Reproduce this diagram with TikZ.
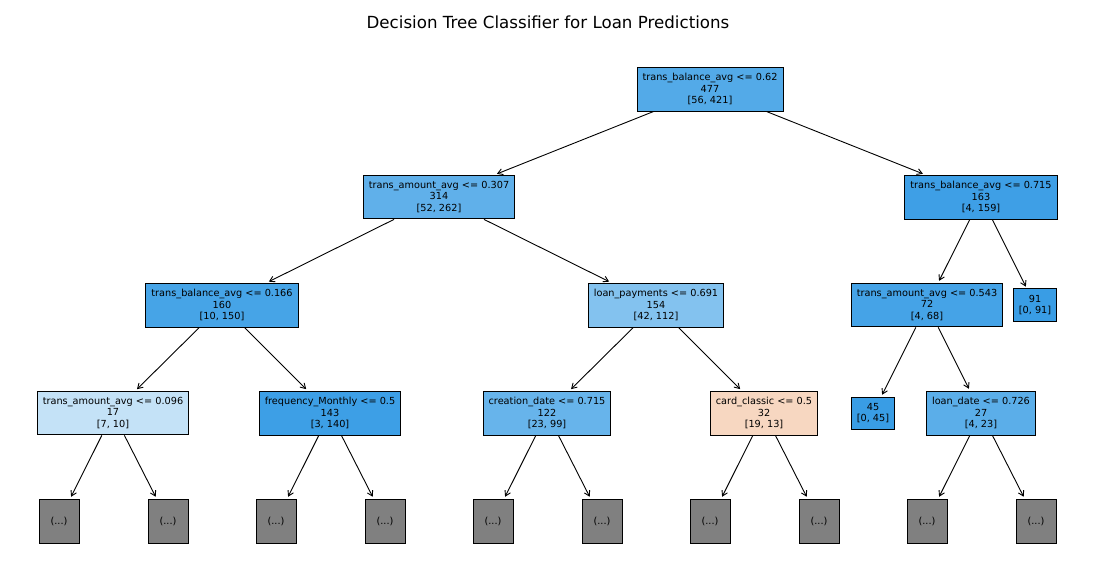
\documentclass[tikz,border=0pt]{standalone}
\usepackage{fontspec}
\setmainfont{DejaVu Sans}
\usetikzlibrary{arrows.meta}
\definecolor{cRoot}{RGB}{83,170,232}
\definecolor{cA}{RGB}{96,176,234}
\definecolor{cB}{RGB}{62,159,230}
\definecolor{cC}{RGB}{70,164,231}
\definecolor{cD}{RGB}{131,194,239}
\definecolor{cE}{RGB}{69,163,231}
\definecolor{cF}{RGB}{57,157,229}
\definecolor{cG}{RGB}{196,226,247}
\definecolor{cH}{RGB}{61,159,230}
\definecolor{cI}{RGB}{103,180,235}
\definecolor{cJ}{RGB}{247,215,193}
\definecolor{cK}{RGB}{91,174,233}
\definecolor{cGrey}{RGB}{128,128,128}
\tikzset{
  tnode/.style={draw=black, line width=0.9pt, align=center, inner xsep=5.5pt, inner ysep=6pt,
    font=\fontsize{9.72}{11.67}\selectfont},
  more/.style={draw=black, line width=0.9pt, fill=cGrey, minimum width=40pt, minimum height=44pt,
    inner sep=0pt, font=\fontsize{9.72}{11.67}\selectfont},
  edge/.style={draw=black, line width=0.9pt, -{Straight Barb[length=5pt,width=6pt]}, shorten >=2pt}
}
\begin{document}
\begin{tikzpicture}[x=1pt,y=-1pt]
\useasboundingbox (0,0) rectangle (1100,567);
\node[font=\fontsize{16.67}{20}\selectfont] (title) at (548,22) {Decision Tree Classifier for Loan Predictions};

\node[tnode, fill=cRoot] (r) at (710,89) {trans\_balance\_avg <= 0.62\\477\\{[}56, 421{]}};
\node[tnode, fill=cA] (n1) at (439,197) {trans\_amount\_avg <= 0.307\\314\\{[}52, 262{]}};
\node[tnode, fill=cB] (n2) at (981,197) {trans\_balance\_avg <= 0.715\\163\\{[}4, 159{]}};
\node[tnode, fill=cC] (n3) at (222,305) {trans\_balance\_avg <= 0.166\\160\\{[}10, 150{]}};
\node[tnode, fill=cD] (n4) at (656,305) {loan\_payments <= 0.691\\154\\{[}42, 112{]}};
\node[tnode, fill=cE] (n5) at (927,305) {trans\_amount\_avg <= 0.543\\72\\{[}4, 68{]}};
\node[tnode, fill=cF] (n6) at (1035,305) {91\\{[}0, 91{]}};
\node[tnode, fill=cG] (n7) at (113,413) {trans\_amount\_avg <= 0.096\\17\\{[}7, 10{]}};
\node[tnode, fill=cH] (n8) at (330,413) {frequency\_Monthly <= 0.5\\143\\{[}3, 140{]}};
\node[tnode, fill=cI] (n9) at (547,413) {creation\_date <= 0.715\\122\\{[}23, 99{]}};
\node[tnode, fill=cJ] (n10) at (764,413) {card\_classic <= 0.5\\32\\{[}19, 13{]}};
\node[tnode, fill=cF] (n11) at (873,413) {45\\{[}0, 45{]}};
\node[tnode, fill=cK] (n12) at (981,413) {loan\_date <= 0.726\\27\\{[}4, 23{]}};

\node[more] (l1) at (59,521) {(...)};
\node[more] (l2) at (168,521) {(...)};
\node[more] (l3) at (276,521) {(...)};
\node[more] (l4) at (385,521) {(...)};
\node[more] (l5) at (493,521) {(...)};
\node[more] (l6) at (602,521) {(...)};
\node[more] (l7) at (710,521) {(...)};
\node[more] (l8) at (819,521) {(...)};
\node[more] (l9) at (927,521) {(...)};
\node[more] (l10) at (1036,521) {(...)};

\draw[edge] (r) -- (n1);
\draw[edge] (r) -- (n2);
\draw[edge] (n1) -- (n3);
\draw[edge] (n1) -- (n4);
\draw[edge] (n2) -- (n5);
\draw[edge] (n2) -- (n6);
\draw[edge] (n3) -- (n7);
\draw[edge] (n3) -- (n8);
\draw[edge] (n4) -- (n9);
\draw[edge] (n4) -- (n10);
\draw[edge] (n5) -- (n11);
\draw[edge] (n5) -- (n12);
\draw[edge] (n7) -- (l1);
\draw[edge] (n7) -- (l2);
\draw[edge] (n8) -- (l3);
\draw[edge] (n8) -- (l4);
\draw[edge] (n9) -- (l5);
\draw[edge] (n9) -- (l6);
\draw[edge] (n10) -- (l7);
\draw[edge] (n10) -- (l8);
\draw[edge] (n12) -- (l9);
\draw[edge] (n12) -- (l10);
\end{tikzpicture}
\end{document}
